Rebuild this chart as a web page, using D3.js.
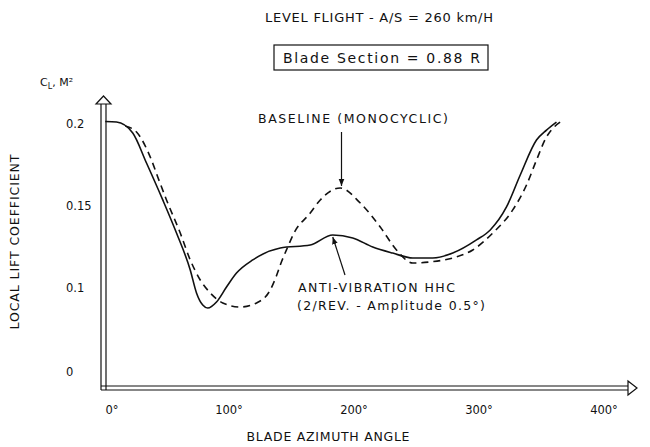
<!DOCTYPE html>
<html>
<head>
<meta charset="utf-8">
<script src="https://cdn.jsdelivr.net/npm/d3@7"></script>
<style>
  body { margin:0; background:#fff; }
  text { font-family:"DejaVu Sans", "Liberation Sans", sans-serif; fill:#111; }
</style>
</head>
<body>
<div class="canvas"></div>
<script>
// data (azimuth deg, local CL.M^2)
var antiVibAzimuth = [1, 10, 23, 34, 47, 58, 69, 74, 79, 83, 90, 98, 106, 119, 141, 165, 183, 199, 215, 231, 247, 263, 279, 298, 309, 322, 333, 346, 354, 362];
var antiVibCl      = [0.2015, 0.2012, 0.1945, 0.1762, 0.1537, 0.1335, 0.111, 0.097, 0.0896, 0.0878, 0.0915, 0.1006, 0.1091, 0.1171, 0.1244, 0.1262, 0.1323, 0.1305, 0.125, 0.1213, 0.1183, 0.1183, 0.1213, 0.1293, 0.1354, 0.1494, 0.1689, 0.1902, 0.1963, 0.2012];

var baselineAzimuth = [17, 26, 38, 43, 50, 61, 69, 77, 85, 95, 109, 122, 133, 138, 142, 147, 152, 165, 173, 189, 205, 221, 234, 247, 261, 279, 295, 311, 327, 338, 346, 354, 361, 365];
var baselineCl      = [0.1988, 0.1951, 0.178, 0.1677, 0.1537, 0.1335, 0.1171, 0.1049, 0.097, 0.0909, 0.0884, 0.0909, 0.0988, 0.1075, 0.116, 0.125, 0.1335, 0.1457, 0.1537, 0.161, 0.1518, 0.1372, 0.1232, 0.1152, 0.1159, 0.1183, 0.1232, 0.1335, 0.1476, 0.1628, 0.178, 0.1921, 0.1988, 0.2012];

var xTicks = [0, 100, 200, 300, 400];
var xTickLabels = ['0°', '100°', '200°', '300°', '400°'];
var yTicks = [0, 0.1, 0.15, 0.2];
var yTickLabels = ['0', '0.1', '0.15', '0.2'];

var pageWidth = 650, pageHeight = 447;

var svg = d3.select('.canvas')
    .append('svg')
    .attr('width', pageWidth)
    .attr('height', pageHeight);

// x: 0..400 deg ; y has a break between 0 and 0.08 like the original
var x = d3.scaleLinear().domain([0, 400]).range([104, 604]);
var y = d3.scaleLinear().domain([0, 0.08, 0.2]).range([372, 320.8, 124]);

var axisX = 101, axisY = 388;

// helper for the wide scanned lettering
function label(px, py, str, size, len, anchor){
    var t = svg.append('text')
        .attr('x', px).attr('y', py)
        .style('font-size', size + 'px')
        .text(str);
    if(anchor) t.attr('text-anchor', anchor);
    if(len) t.attr('textLength', len).attr('lengthAdjust', 'spacing');
    return t;
}

// titles
label(265, 22, 'LEVEL FLIGHT - A/S = 260 km/H', 13, 228);

svg.append('rect')
    .attr('x', 274).attr('y', 45)
    .attr('width', 214).attr('height', 25)
    .style('fill', 'none').style('stroke', '#111').style('stroke-width', 1.2);

label(283, 63, 'Blade Section = 0.88 R', 14, 197);

// axes: double lines with hollow arrow heads
var yTop = 104, xRight = 628;
[axisX, axisX + 5].forEach(function(px){
    svg.append('line')
        .attr('x1', px).attr('x2', px)
        .attr('y1', axisY + 2).attr('y2', yTop)
        .style('stroke', '#111').style('stroke-width', 1.2);
});
svg.append('path')
    .attr('d', 'M' + (axisX - 5) + ',' + yTop + ' L' + (axisX + 2.5) + ',' + (yTop - 8) + ' L' + (axisX + 10) + ',' + yTop + ' Z')
    .style('fill', '#fff').style('stroke', '#111').style('stroke-width', 1.2);

[axisY - 2, axisY + 2].forEach(function(py){
    svg.append('line')
        .attr('x1', axisX).attr('x2', xRight)
        .attr('y1', py).attr('y2', py)
        .style('stroke', '#111').style('stroke-width', 1.2);
});
svg.append('path')
    .attr('d', 'M' + xRight + ',' + (axisY - 7) + ' L' + (xRight + 9) + ',' + axisY + ' L' + xRight + ',' + (axisY + 7) + ' Z')
    .style('fill', '#fff').style('stroke', '#111').style('stroke-width', 1.2);

// tick labels
svg.selectAll('.y-tick')
    .data(yTicks)
    .enter().append('text')
    .attr('class', 'y-tick')
    .attr('x', 66)
    .attr('y', function(d){ return y(d) + 4; })
    .style('font-size', '11.5px')
    .text(function(d, i){ return yTickLabels[i]; });

svg.selectAll('.x-tick')
    .data(xTicks)
    .enter().append('text')
    .attr('class', 'x-tick')
    .attr('x', function(d){ return x(d) + (d === 0 ? 8 : 0); })
    .attr('y', 414)
    .attr('text-anchor', 'middle')
    .style('font-size', '11.5px')
    .text(function(d, i){ return xTickLabels[i]; });

// axis titles
label(0, 0, 'LOCAL LIFT COEFFICIENT', 12.5, 175, 'middle')
    .attr('transform', 'translate(19,242) rotate(-90)');

label(328, 441, 'BLADE AZIMUTH ANGLE', 12.5, 163, 'middle');

var cl = svg.append('text')
    .attr('x', 40).attr('y', 86)
    .style('font-size', '11px');
cl.append('tspan').text('C');
cl.append('tspan').attr('dy', 3).style('font-size', '8px').text('L');
cl.append('tspan').attr('dy', -3).text(', M²');

// curves
var line = d3.line()
    .x(function(d){ return x(d[0]); })
    .y(function(d){ return y(d[1]); })
    .curve(d3.curveMonotoneX);

var solid = antiVibAzimuth.map(function(a, i){ return [a, antiVibCl[i]]; });
var dashed = baselineAzimuth.map(function(a, i){ return [a, baselineCl[i]]; });

svg.append('path')
    .datum(solid)
    .attr('d', line)
    .style('fill', 'none').style('stroke', '#111').style('stroke-width', 1.6);

svg.append('path')
    .datum(dashed)
    .attr('d', line)
    .style('fill', 'none').style('stroke', '#111').style('stroke-width', 1.6)
    .style('stroke-dasharray', '7,5');

// annotations
svg.append('defs').append('marker')
    .attr('id', 'head')
    .attr('viewBox', '0 0 10 10')
    .attr('refX', 10).attr('refY', 5)
    .attr('markerWidth', 6).attr('markerHeight', 6)
    .attr('orient', 'auto')
    .append('path')
    .attr('d', 'M0,1 L10,5 L0,9 Z')
    .style('fill', '#111');

label(258, 123, 'BASELINE (MONOCYCLIC)', 12.5, 190);

svg.append('line')
    .attr('x1', x(190)).attr('x2', x(190))
    .attr('y1', 132).attr('y2', y(0.161) - 2)
    .attr('marker-end', 'url(#head)')
    .style('stroke', '#111').style('stroke-width', 1.2);

svg.append('line')
    .attr('x1', 345).attr('y1', 275)
    .attr('x2', x(183)).attr('y2', y(0.1323) + 2)
    .attr('marker-end', 'url(#head)')
    .style('stroke', '#111').style('stroke-width', 1.2);

label(298, 292, 'ANTI-VIBRATION HHC', 12.5, 157);
label(297, 310, '(2/REV. - Amplitude 0.5°)', 12.5, 188);
</script>
</body>
</html>
